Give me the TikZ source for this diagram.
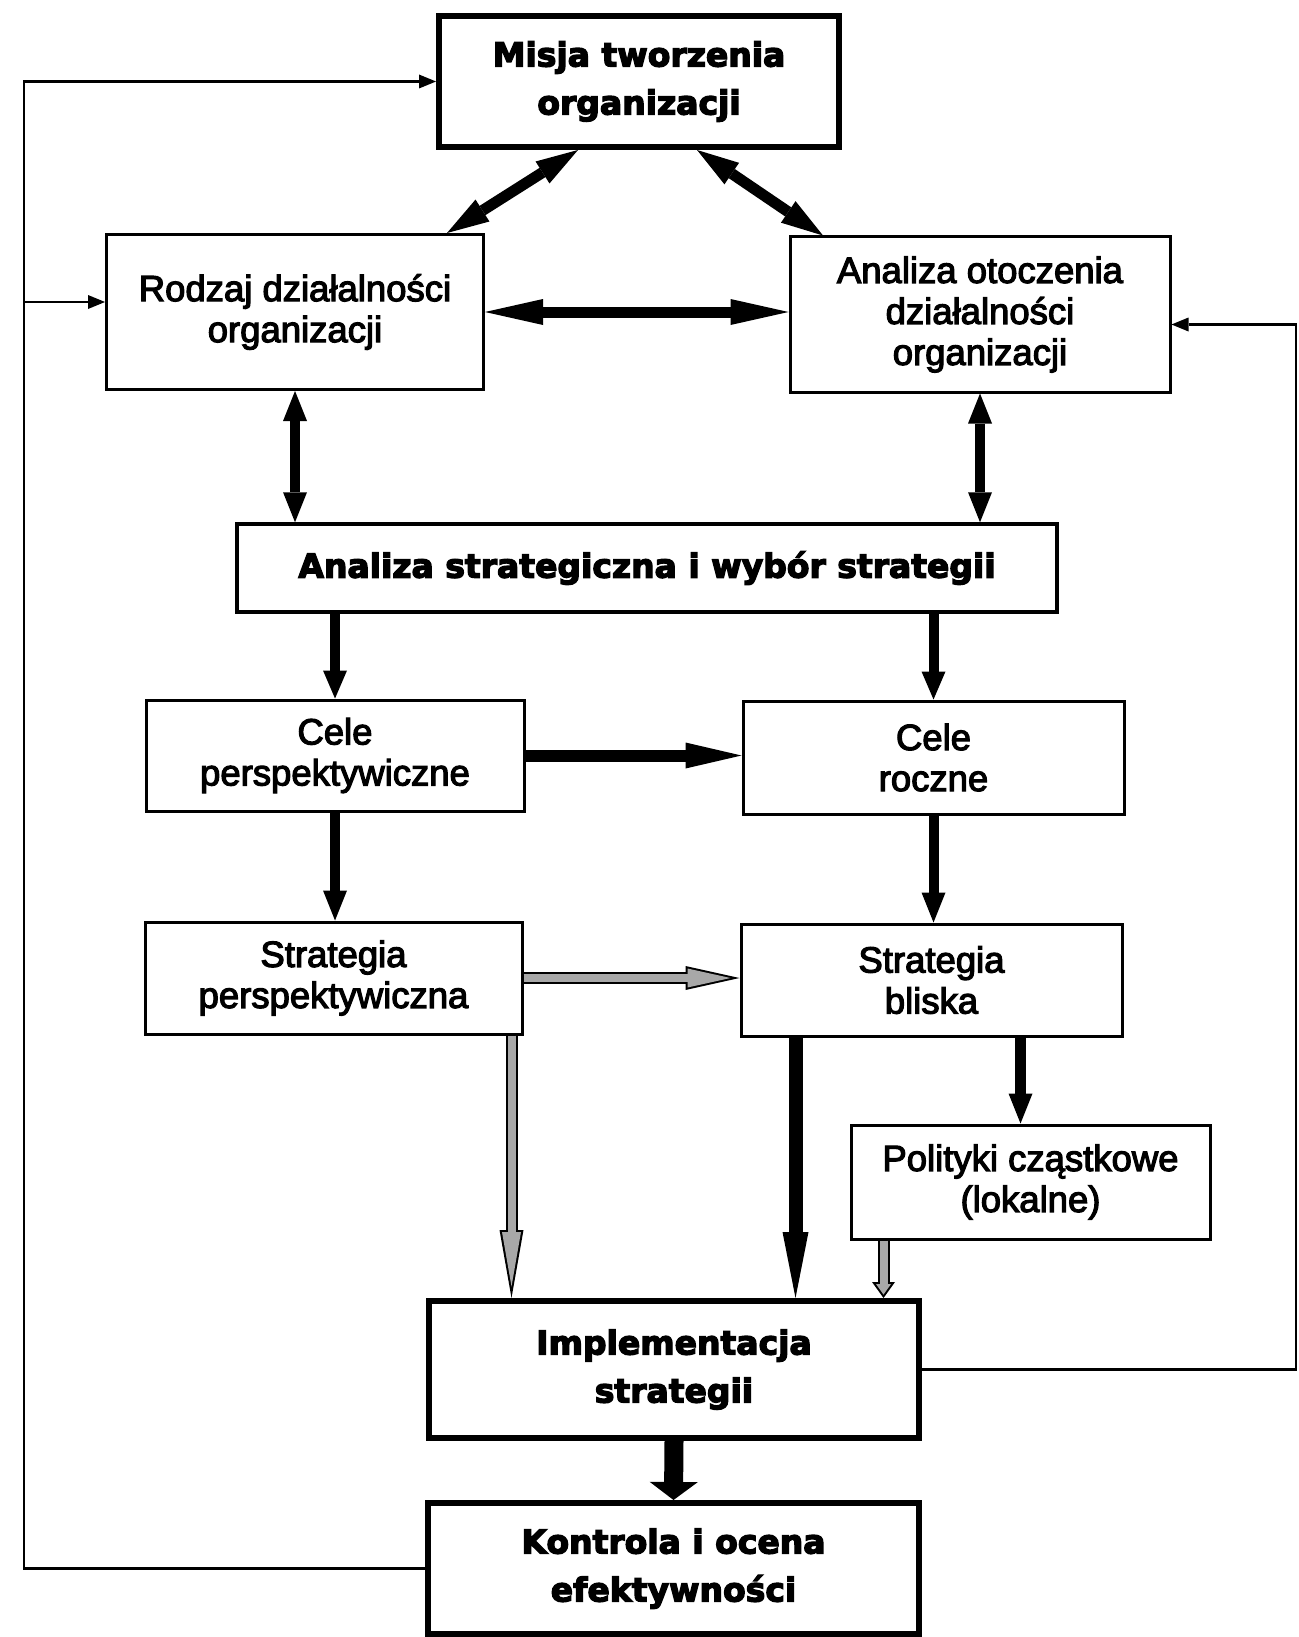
\documentclass[tikz,border=0pt]{standalone}
\usepackage{fontspec}
\setmainfont{Liberation Sans}
\newfontfamily\heavyfont{DejaVu Sans}[BoldFeatures={FakeBold=4}]
\newfontface\plainfont{Liberation Sans}[FakeBold=3.2]
\usetikzlibrary{arrows.meta}
\definecolor{hatch}{gray}{0.66}

\tikzset{
  box/.style={draw, line width=3pt, inner sep=0pt, align=center, fill=white},
  thickbox/.style={box, line width=6pt},
  plain/.style={font=\plainfont\fontsize{36.5}{41}\selectfont},
  heavy/.style={font=\heavyfont\bfseries\fontsize{33}{48}\selectfont},
  fb/.style={line width=2.5pt, -{Triangle[length=17pt,width=14pt,line width=0pt]}},
  hatchout/.style={line width=12pt, black},
  hatchin/.style={line width=8pt, hatch}
}

\begin{document}
\begin{tikzpicture}[x=1pt, y=-1pt]
\useasboundingbox (0,0) rectangle (1298,1637);

% boxes
\node[thickbox, heavy, minimum width=400pt, minimum height=131pt] (misja) at (639,81.5) {Misja tworzenia\\organizacji};
\node[box, plain, minimum width=377pt, minimum height=155pt] (rodzaj) at (295,312) {Rodzaj działalności\\organizacji};
\node[box, plain, minimum width=380pt, minimum height=155pt] (ana) at (980,314.5) {Analiza otoczenia\\działalności\\organizacji};
\node[box, heavy, line width=3.5pt, minimum width=820pt, minimum height=88pt] (as) at (647,568) {Analiza strategiczna i wybór strategii};
\node[box, plain, minimum width=378pt, minimum height=111pt] (cp) at (335,755.5) {Cele\\perspektywiczne};
\node[box, plain, minimum width=381pt, minimum height=113pt] (cr) at (933.5,757.5) {Cele\\roczne};
\node[box, plain, minimum width=377pt, minimum height=112pt] (sp) at (333.5,978) {Strategia\\perspektywiczna};
\node[box, plain, minimum width=381pt, minimum height=112pt] (sb) at (931.5,980) {Strategia\\bliska};
\node[box, plain, minimum width=359pt, minimum height=114pt] (pol) at (1030.5,1182) {Polityki cząstkowe\\(lokalne)};
\node[thickbox, heavy, minimum width=490pt, minimum height=137pt] (impl) at (674,1369.5) {Implementacja\\strategii};
\node[thickbox, heavy, minimum width=491pt, minimum height=131pt] (kon) at (673.5,1568.5) {Kontrola i ocena\\efektywności};

% two-way links between the upper boxes
\draw[line width=11pt, {Triangle[length=42pt,width=26pt,line width=0pt]}-{Triangle[length=42pt,width=26pt,line width=0pt]}]
  ([xshift=-61pt]misja.south) -- ([xshift=152pt]rodzaj.north);
\draw[line width=11pt, {Triangle[length=42pt,width=26pt,line width=0pt]}-{Triangle[length=42pt,width=26pt,line width=0pt]}]
  ([xshift=58pt]misja.south) -- ([xshift=-157pt]ana.north);
\draw[line width=11pt, {Triangle[length=58pt,width=26pt,line width=0pt]}-{Triangle[length=58pt,width=26pt,line width=0pt]}]
  (rodzaj.east) -- (rodzaj.east -| ana.west);
\draw[line width=10pt, {Triangle[length=30pt,width=24pt,line width=0pt]}-{Triangle[length=30pt,width=24pt,line width=0pt]}]
  (rodzaj.south) -- (rodzaj.south |- as.north);
\draw[line width=10pt, {Triangle[length=30pt,width=24pt,line width=0pt]}-{Triangle[length=30pt,width=24pt,line width=0pt]}]
  (ana.south) -- (ana.south |- as.north);

% solid flow arrows
\draw[line width=10pt, -{Triangle[length=28pt,width=24pt,line width=0pt]}] (as.south -| cp.north) -- (cp.north);
\draw[line width=10pt, -{Triangle[length=28pt,width=24pt,line width=0pt]}] (as.south -| cr.north) -- (cr.north);
\draw[line width=12pt, -{Triangle[length=56pt,width=26pt,line width=0pt]}] (cp.east) -- (cp.east -| cr.west);
\draw[line width=10pt, -{Triangle[length=30pt,width=24pt,line width=0pt]}] (cp.south) -- (cp.south |- sp.north);
\draw[line width=10pt, -{Triangle[length=30pt,width=24pt,line width=0pt]}] (cr.south) -- (cr.south |- sb.north);
\coordinate (sbout) at ([xshift=56pt]sb.south west);
\draw[line width=14pt, -{Triangle[length=66pt,width=26pt,line width=0pt]}] (sbout) -- (sbout |- impl.north);
\coordinate (polin) at ([xshift=-10pt]pol.north);
\draw[line width=11pt, -{Triangle[length=30pt,width=24pt,line width=0pt]}] (polin |- sb.south) -- (polin);
\draw[line width=19pt, -{Triangle[length=18pt,width=48pt,line width=0pt]}] (impl.south) -- (kon.north);

% outlined grey arrows
\draw[hatchout, -{Triangle[length=54pt,width=24pt,line width=0pt]}] (sp.east) -- (sp.east -| sb.west);
\draw[hatchin, shorten >=9pt, -{Triangle[length=43pt,width=19pt,line width=0pt]}] (sp.east) -- (sp.east -| sb.west);
\coordinate (spout) at ([xshift=-12pt]sp.south east);
\draw[hatchout, -{Triangle[length=68pt,width=24pt,line width=0pt]}] (spout) -- (spout |- impl.north);
\draw[hatchin, shorten >=11.5pt, -{Triangle[length=54.5pt,width=19pt,line width=0pt]}] (spout) -- (spout |- impl.north);
\coordinate (polout) at ([xshift=34pt]pol.south west);
\draw[hatchout, -{Triangle[length=16pt,width=23pt,line width=0pt]}] (polout) -- (polout |- impl.north);
\draw[hatchin, shorten >=3.4pt, -{Triangle[length=10.6pt,width=15pt,line width=0pt]}] (polout) -- (polout |- impl.north);

% feedback loops
\coordinate (fbl) at (24,81.5);
\coordinate (rodzin) at ([yshift=10pt]rodzaj.west);
\draw[fb] (kon.west) -| (fbl) -- (misja.west);
\draw[fb] (fbl |- rodzin) -- (rodzin);
\coordinate (fbr) at (1296,1370);
\coordinate (anain) at ([yshift=-10pt]ana.east);
\draw[fb] (impl.east) -| (fbr |- anain) -- (anain);
\end{tikzpicture}
\end{document}
